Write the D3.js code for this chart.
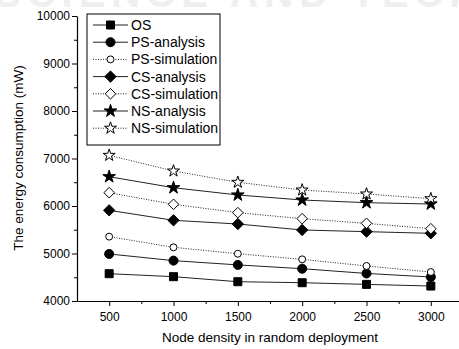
<!DOCTYPE html>
<html>
<head>
<meta charset="utf-8">
<script src="https://cdn.jsdelivr.net/npm/d3@7"></script>
<style>
  body { margin: 0; background: #fff; }
  text { font-family: 'Liberation Sans', Arial, sans-serif; }
</style>
</head>
<body>
<div id="chart"></div>
<script>
const densities = [500, 1000, 1500, 2000, 2500, 3000]
const seriesNames = ['OS', 'PS-analysis', 'PS-simulation', 'CS-analysis', 'CS-simulation', 'NS-analysis', 'NS-simulation']
const os = [4575, 4512, 4406, 4385, 4350, 4315]
const psAnalysis = [4990, 4850, 4760, 4680, 4580, 4505]
const psSimulation = [5355, 5130, 4995, 4877, 4737, 4610]
const csAnalysis = [5909, 5699, 5621, 5495, 5460, 5425]
const csSimulation = [6280, 6035, 5860, 5733, 5635, 5522]
const nsAnalysis = [6617, 6385, 6232, 6126, 6070, 6042]
const nsSimulation = [7067, 6737, 6499, 6337, 6253, 6154]
const yTicks = [4000, 5000, 6000, 7000, 8000, 9000, 10000]

const allValues = [os, psAnalysis, psSimulation, csAnalysis, csSimulation, nsAnalysis, nsSimulation]

// square turned 45deg, like the origin plot's diamond
const diamond = {
  draw(ctx, size) {
    const r = Math.sqrt(size / 2)
    ctx.moveTo(0, -r)
    ctx.lineTo(r, 0)
    ctx.lineTo(0, r)
    ctx.lineTo(-r, 0)
    ctx.closePath()
  }
}

// marker style per series
const styles = [
  { symbol: d3.symbolSquare, size: 64, fill: '#000', dash: null },
  { symbol: d3.symbolCircle, size: 64, fill: '#000', dash: null },
  { symbol: d3.symbolCircle, size: 38, fill: '#fff', dash: '1,1.5' },
  { symbol: diamond, size: 64, fill: '#000', dash: null },
  { symbol: diamond, size: 56, fill: '#fff', dash: '1,1.5' },
  { symbol: d3.symbolStar, size: 50, fill: '#000', dash: null },
  { symbol: d3.symbolStar, size: 45, fill: '#fff', dash: '1,1.5' }
]

const width = 459
const height = 349
const margin = { top: 16, left: 77, right: -4, bottom: 48 }

const svg = d3
  .select('#chart')
  .append('svg')
  .attr('width', width)
  .attr('height', height)

// faded watermark at top
svg
  .append('text')
  .attr('x', -6)
  .attr('y', 7)
  .attr('font-size', 40)
  .attr('font-weight', 'bold')
  .attr('letter-spacing', 6)
  .attr('fill', '#efefef')
  .text('SCIENCE AND TECHNO')

const x = d3
  .scaleLinear()
  .domain([250, 3250])
  .range([margin.left, width - margin.right])

const y = d3
  .scaleLinear()
  .domain([4000, 10000])
  .range([height - margin.bottom, margin.top])

const g = svg.append('g')

// x axis
g.append('g')
  .attr('transform', `translate(0,${y(4000)})`)
  .call(d3.axisBottom(x).tickValues(d3.range(750, 3251, 500)).tickSize(3).tickFormat(''))
  .call(a => a.select('.domain').remove())
g.append('g')
  .attr('transform', `translate(0,${y(4000)})`)
  .call(d3.axisBottom(x).tickValues(densities).tickSize(5).tickPadding(6).tickSizeOuter(0).tickFormat(d3.format('d')))
  .call(a => a.selectAll('text').attr('font-size', 12).attr('fill', '#000'))
  .call(a => a.select('.domain').attr('stroke-width', 1.2))

// y axis
g.append('g')
  .attr('transform', `translate(${x(250)},0)`)
  .call(d3.axisLeft(y).tickValues(d3.range(4500, 10000, 1000)).tickSize(3).tickFormat(''))
  .call(a => a.select('.domain').remove())
g.append('g')
  .attr('transform', `translate(${x(250)},0)`)
  .call(d3.axisLeft(y).tickValues(yTicks).tickSize(5).tickPadding(2).tickSizeOuter(0).tickFormat(d3.format('d')))
  .call(a => a.selectAll('text').attr('font-size', 12).attr('fill', '#000'))
  .call(a => a.select('.domain').attr('stroke-width', 1.2))

// axis titles
svg
  .append('text')
  .attr('x', 270)
  .attr('y', 342)
  .attr('text-anchor', 'middle')
  .attr('font-size', 13.5)
  .text('Node density in random deployment')

svg
  .append('text')
  .attr('transform', 'translate(23,158) rotate(-90)')
  .attr('text-anchor', 'middle')
  .attr('font-size', 13.5)
  .text('The energy consumption (mW)')

const line = d3
  .line()
  .x((d, i) => x(densities[i]))
  .y(d => y(d))

allValues.forEach((values, k) => {
  const st = styles[k]
  g.append('path')
    .datum(values)
    .attr('d', line)
    .attr('fill', 'none')
    .attr('stroke', '#222')
    .attr('stroke-width', 1)
    .attr('stroke-dasharray', st.dash)

  g.selectAll('.m' + k)
    .data(values)
    .join('path')
    .attr('class', 'm' + k)
    .attr('transform', (d, i) => `translate(${x(densities[i])},${y(d)})`)
    .attr('d', d3.symbol(st.symbol, st.size))
    .attr('fill', st.fill)
    .attr('stroke', '#000')
    .attr('stroke-width', 1)
})

// legend
const legend = svg.append('g').attr('transform', 'translate(87,14)')
legend
  .append('rect')
  .attr('width', 133)
  .attr('height', 131)
  .attr('fill', '#fff')
  .attr('stroke', '#000')
  .attr('stroke-width', 1)

seriesNames.forEach((name, k) => {
  const st = styles[k]
  const row = legend.append('g').attr('transform', `translate(0,${11 + k * 17.2})`)
  row.append('line')
    .attr('x1', 6)
    .attr('x2', 41)
    .attr('stroke', '#222')
    .attr('stroke-dasharray', st.dash)
  row.append('path')
    .attr('transform', 'translate(23.5,0)')
    .attr('d', d3.symbol(st.symbol, st.size))
    .attr('fill', st.fill)
    .attr('stroke', '#000')
  row.append('text')
    .attr('x', 44)
    .attr('dy', '0.35em')
    .attr('font-size', 14)
    .text(name)
})
</script>
</body>
</html>
